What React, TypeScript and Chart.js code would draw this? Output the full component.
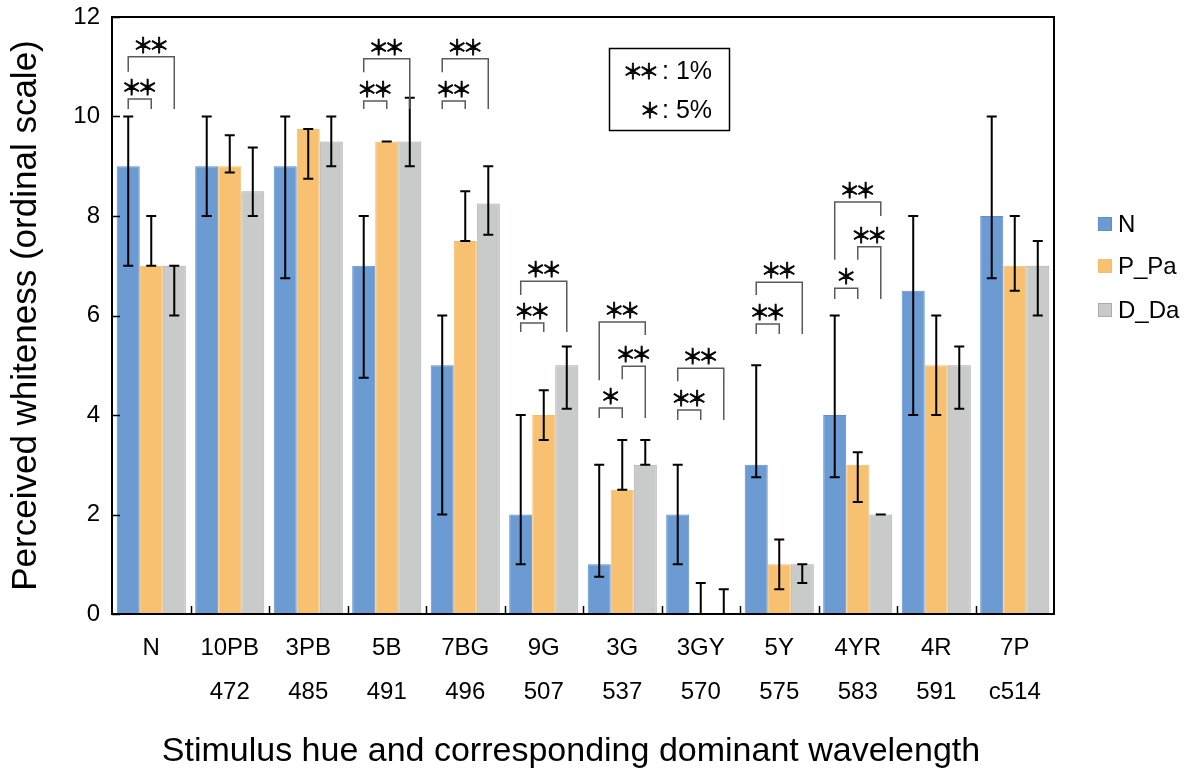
import { useEffect, useRef } from 'react';
import { Chart, registerables } from 'chart.js';

Chart.register(...registerables);

const FONT = '"Liberation Sans", Arial, Helvetica, sans-serif';
const STAR_FONT = '"Noto Sans CJK JP", "DejaVu Sans", sans-serif';

// Stimulus hues (first line) and dominant wavelengths (second line)
const hueLabels = ['N', '10PB', '3PB', '5B', '7BG', '9G', '3G', '3GY', '5Y', '4YR', '4R', '7P'];
const wavelengthLabels = ['', '472', '485', '491', '496', '507', '537', '570', '575', '583', '591', 'c514'];

const seriesLabels = ['N', 'P_Pa', 'D_Da'];
const seriesFill = ['#6B9BD2', '#F8C171', '#C9CACA'];
const seriesEdge = ['#5F8FC8', '#F3BE70', '#ABABAB'];

// Median perceived whiteness per hue
const valuesN = [9, 9, 9, 7, 5, 2, 1, 2, 3, 4, 6.5, 8];
const valuesPPa = [7, 9, 9.75, 9.5, 7.5, 4, 2.5, 0, 1, 3, 5, 7];
const valuesDDa = [7, 8.5, 9.5, 9.5, 8.25, 5, 3, 0, 1, 2, 5, 7];

// Error bar ranges (lower / upper)
const lowerN = [7, 8, 6.75, 4.75, 2, 1, 0.75, 1, 2.75, 2.75, 4, 6.75];
const upperN = [10, 10, 10, 8, 6, 4, 3, 3, 5, 6, 8, 10];
const lowerPPa = [7, 8.875, 8.75, 9.5, 7.5, 3.5, 2.5, 0, 0.5, 2.25, 4, 6.5];
const upperPPa = [8, 9.625, 9.75, 9.5, 8.5, 4.5, 3.5, 0.625, 1.5, 3.25, 6, 8];
const lowerDDa = [6, 8, 9, 9, 7.625, 4.125, 3, 0, 0.625, 2, 4.125, 6];
const upperDDa = [7, 9.375, 10, 10.375, 9, 5.375, 3.5, 0.5, 1, 2, 5.375, 7.5];

const yTicks = [0, 2, 4, 6, 8, 10, 12];

// Significance brackets: hue index, the two series compared, bracket height,
// foot heights of the left and right legs, and the significance mark.
type Bracket = { hue: number; from: number; to: number; top: number; leftFoot: number; rightFoot: number; mark: string };
const brackets: Bracket[] = [
  { hue: 0, from: 0, to: 1, top: 10.35, leftFoot: 10.15, rightFoot: 10.15, mark: '**' },
  { hue: 0, from: 0, to: 2, top: 11.2, leftFoot: 10.9, rightFoot: 10.15, mark: '**' },
  { hue: 3, from: 0, to: 1, top: 10.31, leftFoot: 10.15, rightFoot: 10.15, mark: '**' },
  { hue: 3, from: 0, to: 2, top: 11.16, leftFoot: 10.89, rightFoot: 10.15, mark: '**' },
  { hue: 4, from: 0, to: 1, top: 10.31, leftFoot: 10.15, rightFoot: 10.15, mark: '**' },
  { hue: 4, from: 0, to: 2, top: 11.16, leftFoot: 10.89, rightFoot: 10.15, mark: '**' },
  { hue: 5, from: 0, to: 1, top: 5.85, leftFoot: 5.67, rightFoot: 5.67, mark: '**' },
  { hue: 5, from: 0, to: 2, top: 6.69, leftFoot: 6.41, rightFoot: 5.67, mark: '**' },
  { hue: 6, from: 0, to: 1, top: 4.14, leftFoot: 3.94, rightFoot: 3.94, mark: '*' },
  { hue: 6, from: 1, to: 2, top: 4.98, leftFoot: 4.72, rightFoot: 3.94, mark: '**' },
  { hue: 6, from: 0, to: 2, top: 5.87, leftFoot: 4.7, rightFoot: 5.61, mark: '**' },
  { hue: 7, from: 0, to: 1, top: 4.1, leftFoot: 3.9, rightFoot: 3.9, mark: '**' },
  { hue: 7, from: 0, to: 2, top: 4.94, leftFoot: 4.68, rightFoot: 3.9, mark: '**' },
  { hue: 8, from: 0, to: 1, top: 5.83, leftFoot: 5.63, rightFoot: 5.63, mark: '**' },
  { hue: 8, from: 0, to: 2, top: 6.67, leftFoot: 6.41, rightFoot: 5.63, mark: '**' },
  { hue: 9, from: 0, to: 1, top: 6.55, leftFoot: 6.33, rightFoot: 6.33, mark: '*' },
  { hue: 9, from: 1, to: 2, top: 7.38, leftFoot: 7.12, rightFoot: 6.33, mark: '**' },
  { hue: 9, from: 0, to: 2, top: 8.28, leftFoot: 7.12, rightFoot: 8.0, mark: '**' },
];

const xTitle = 'Stimulus hue and corresponding dominant wavelength';
const yTitle = 'Perceived whiteness (ordinal scale)';

const STAR_HEIGHT = 16;
const STAR_STEP = 16;

function drawStars(ctx: CanvasRenderingContext2D, count: number, cx: number, cy: number) {
  ctx.save();
  ctx.font = `100px ${STAR_FONT}`;
  const probe = ctx.measureText('＊');
  const h = probe.actualBoundingBoxAscent + probe.actualBoundingBoxDescent;
  const size = (100 * STAR_HEIGHT) / h;
  ctx.font = `${size}px ${STAR_FONT}`;
  const m = ctx.measureText('＊');
  const baseline = cy + (m.actualBoundingBoxAscent - m.actualBoundingBoxDescent) / 2;
  const shift = (m.actualBoundingBoxRight - m.actualBoundingBoxLeft) / 2;
  ctx.textAlign = 'left';
  ctx.textBaseline = 'alphabetic';
  ctx.fillStyle = '#000';
  ctx.strokeStyle = '#000';
  ctx.lineWidth = 0.8;
  for (let k = 0; k < count; k++) {
    const x = cx + (k - (count - 1) / 2) * STAR_STEP - shift;
    ctx.fillText('＊', x, baseline);
    ctx.strokeText('＊', x, baseline);
  }
  ctx.restore();
}

const lowers = [lowerN, lowerPPa, lowerDDa];
const uppers = [upperN, upperPPa, upperDDa];

const decorations = {
  id: 'whitenessDecorations',
  afterDatasetsDraw(chart: any) {
    const ctx: CanvasRenderingContext2D = chart.ctx;
    const xs = chart.scales.x;
    const ys = chart.scales.y;
    const area = chart.chartArea;

    // error bars
    ctx.save();
    ctx.strokeStyle = '#000';
    ctx.lineWidth = 2;
    lowers.forEach((lo, d) => {
      const meta = chart.getDatasetMeta(d);
      lo.forEach((v, i) => {
        const px = meta.data[i].x;
        const y1 = ys.getPixelForValue(v);
        const y2 = ys.getPixelForValue(uppers[d][i]);
        ctx.beginPath();
        ctx.moveTo(px, y1);
        ctx.lineTo(px, y2);
        ctx.moveTo(px - 5, y1);
        ctx.lineTo(px + 5, y1);
        ctx.moveTo(px - 5, y2);
        ctx.lineTo(px + 5, y2);
        ctx.stroke();
      });
    });
    ctx.restore();

    // significance brackets
    ctx.save();
    ctx.strokeStyle = '#5a5a5a';
    ctx.lineWidth = 1.5;
    brackets.forEach((b) => {
      const xa = chart.getDatasetMeta(b.from).data[b.hue].x;
      const xb = chart.getDatasetMeta(b.to).data[b.hue].x;
      const yt = ys.getPixelForValue(b.top);
      ctx.beginPath();
      ctx.moveTo(xa, ys.getPixelForValue(b.leftFoot));
      ctx.lineTo(xa, yt);
      ctx.lineTo(xb, yt);
      ctx.lineTo(xb, ys.getPixelForValue(b.rightFoot));
      ctx.stroke();
      drawStars(ctx, b.mark.length, (xa + xb) / 2, yt - 12);
    });
    ctx.restore();

    // frame and inward tick marks
    ctx.save();
    ctx.strokeStyle = '#000';
    ctx.lineWidth = 2;
    ctx.strokeRect(area.left, area.top, area.right - area.left, area.bottom - area.top);
    ctx.lineWidth = 1.5;
    ctx.beginPath();
    yTicks.forEach((t) => {
      const py = Math.round(ys.getPixelForValue(t)) + 0.5;
      ctx.moveTo(area.left, py);
      ctx.lineTo(area.left + 8, py);
    });
    for (let i = 0; i < hueLabels.length - 1; i++) {
      const px = Math.round((xs.getPixelForValue(i) + xs.getPixelForValue(i + 1)) / 2) + 0.5;
      ctx.moveTo(px, area.bottom);
      ctx.lineTo(px, area.bottom - 8);
    }
    ctx.stroke();
    ctx.restore();

    // significance key
    ctx.save();
    ctx.strokeStyle = '#000';
    ctx.lineWidth = 1.5;
    ctx.strokeRect(609.5, 48.5, 120, 82);
    drawStars(ctx, 2, 641, 71);
    drawStars(ctx, 1, 650, 110);
    ctx.fillStyle = '#000';
    ctx.font = `25px ${FONT}`;
    ctx.textAlign = 'left';
    ctx.textBaseline = 'middle';
    ctx.fillText(': 1%', 662, 72);
    ctx.fillText(': 5%', 662, 111);
    ctx.restore();

    // series legend
    ctx.save();
    ctx.font = `24px ${FONT}`;
    ctx.textAlign = 'left';
    ctx.textBaseline = 'middle';
    const legendY = [224, 266, 310];
    seriesLabels.forEach((label, i) => {
      ctx.fillStyle = seriesFill[i];
      ctx.fillRect(1098, legendY[i] - 7, 14, 14);
      ctx.strokeStyle = seriesEdge[i];
      ctx.lineWidth = 1;
      ctx.strokeRect(1098.5, legendY[i] - 6.5, 13, 13);
      ctx.fillStyle = '#000';
      ctx.fillText(label, 1118, legendY[i] + 1);
    });
    ctx.restore();

    // x axis title
    ctx.save();
    ctx.font = `34px ${FONT}`;
    ctx.fillStyle = '#000';
    ctx.textAlign = 'center';
    ctx.textBaseline = 'alphabetic';
    ctx.fillText(xTitle, 571, 761);
    ctx.restore();
  },
};

export default function App() {
  const canvasRef = useRef<HTMLCanvasElement | null>(null);

  useEffect(() => {
    if (!canvasRef.current) return;
    const labels = hueLabels.map((h, i) => [h, wavelengthLabels[i]]);
    const values = [valuesN, valuesPPa, valuesDDa];
    const chart = new Chart(canvasRef.current, {
      type: 'bar',
      data: {
        labels,
        datasets: seriesLabels.map((label, i) => ({
          label,
          data: values[i],
          backgroundColor: seriesFill[i],
          borderColor: seriesEdge[i],
          borderWidth: 1,
          categoryPercentage: 0.88,
          barPercentage: 1.0,
        })),
      },
      options: {
        animation: false,
        responsive: true,
        maintainAspectRatio: false,
        layout: { padding: { left: 0, right: 135, top: 17, bottom: 0 } },
        plugins: {
          legend: { display: false },
          tooltip: { enabled: false },
        },
        scales: {
          x: {
            grid: { display: false, drawTicks: false },
            border: { display: false },
            ticks: {
              color: '#000',
              font: { family: FONT, size: 24, lineHeight: 1.85 },
              padding: 12,
              maxRotation: 0,
              autoSkip: false,
            },
            afterFit(scale: any) {
              scale.height = 157;
              scale.paddingLeft = 0;
              scale.paddingRight = 0;
            },
          },
          y: {
            min: 0,
            max: 12,
            grid: { display: false, drawTicks: false },
            border: { display: false },
            ticks: {
              stepSize: 2,
              color: '#000',
              font: { family: FONT, size: 24 },
              padding: 12,
            },
            title: {
              display: true,
              text: yTitle,
              color: '#000',
              font: { family: FONT, size: 35, lineHeight: 1.2 },
              padding: { top: 5, bottom: 0 },
            },
            afterFit(scale: any) {
              scale.width = 112;
              scale.paddingTop = 0;
              scale.paddingBottom = 0;
            },
          },
        },
      },
      plugins: [decorations],
    });
    return () => chart.destroy();
  }, []);

  return (
    <div style={{ position: 'absolute', left: 0, top: 0, width: 1189, height: 771, background: '#fff' }}>
      <canvas ref={canvasRef} />
    </div>
  );
}
